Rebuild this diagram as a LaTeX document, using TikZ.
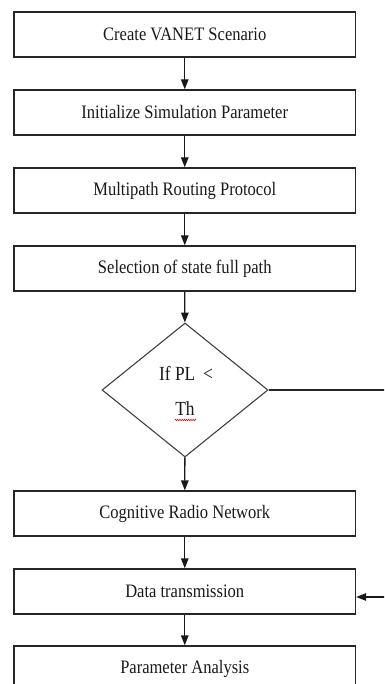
\documentclass[tikz,border=0pt]{standalone}
\usepackage{fontspec}
\setmainfont{Liberation Serif}[FakeStretch=0.87]
\usetikzlibrary{shapes.geometric,arrows.meta,decorations.pathmorphing}
\begin{document}
\begin{tikzpicture}[x=1pt,y=-1pt,
  every node/.style={font=\fontsize{19}{23}\selectfont, text=black!90},
  stepbox/.style={draw=black!85, line width=1.3pt, minimum width=341.5pt,
    minimum height=45pt, inner sep=0pt, anchor=center},
  decision/.style={draw=black!75, line width=1.1pt, shape=diamond, inner sep=0pt,
    minimum width=166pt, minimum height=134pt, align=center},
  flow/.style={draw=black!90, line width=1.3pt, -{Triangle[length=10pt,width=7.5pt]}},
  plainline/.style={draw=black!85, line width=1.3pt}]
\useasboundingbox (0,0) rectangle (384,684);
\clip (0,0) rectangle (384,684);

\node[stepbox] (b1) at (184.75,34.5) {Create VANET Scenario};
\node[stepbox] (b2) at (184.75,112.5) {Initialize Simulation Parameter};
\node[stepbox] (b3) at (184.75,190.5) {Multipath Routing Protocol};
\node[stepbox] (b4) at (184.75,268.5) {Selection of state full path};
\node[decision] (d) at (185,390) {};
\node[font=\fontsize{20}{24}\selectfont] (q1) at (186,373) {If PL \,<};
\node[font=\fontsize{20}{24}\selectfont] (q2) at (185,409) {Th};
\node[stepbox] (b5) at (184.75,513.5) {Cognitive Radio Network};
\node[stepbox] (b6) at (184.75,591.5) {Data transmission};
\node[stepbox] (b7) at (184.75,668.5) {};
\node (b7t) at (184.75,668.5) {Parameter Analysis};

% spell-check squiggle under "Th"
\draw[red!85!black, line width=0.5pt,
  decorate, decoration={zigzag, segment length=2.2pt, amplitude=0.8pt}]
  (175,420) coordinate (sq1) -- ++(21,0);

\draw[flow] (b1) -- (b2);
\draw[flow] (b2) -- (b3);
\draw[flow] (b3) -- (b4);
\draw[flow] (b4) -- (d);
\draw[flow] (d) -- (b5);
\draw[flow] (b5) -- (b6);
\draw[flow] (b6) -- (b7);

% "no" branch leaves to the right and re-enters at Data transmission
\coordinate (r1) at (386,390);
\coordinate (r2) at (386,597);
\draw[plainline] (d.east) -- (r1);
\draw[flow] (r2) -- (b6.east |- r2);
\end{tikzpicture}
\end{document}
